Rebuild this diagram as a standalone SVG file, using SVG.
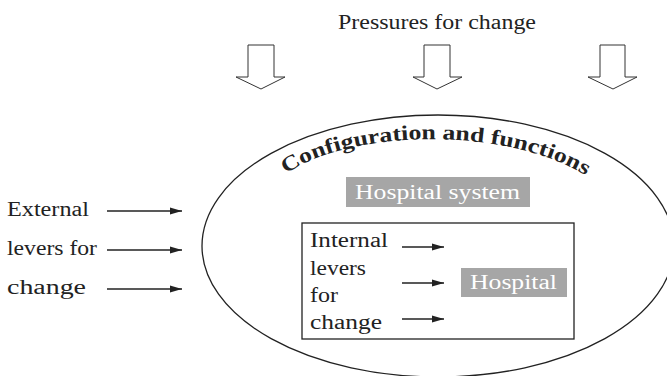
<svg xmlns="http://www.w3.org/2000/svg" width="667" height="376" viewBox="0 0 667 376">
<style>
text{font-family:"Liberation Serif","Times New Roman",serif;fill:#222;}
.lbl{font-size:20.5px;}
.wt{fill:#fff;font-size:20.5px;}
.box{fill:#a6a6a6;}
.ln{stroke:#222;stroke-width:1.3;fill:none;}
.blk{fill:#fff;stroke:#333;stroke-width:1;}
</style>
<defs>
<marker id="ah" markerUnits="userSpaceOnUse" markerWidth="12" markerHeight="8" refX="12" refY="4" orient="auto">
<path d="M0,0.5 L12,4 L0,7.5 Z" fill="#222"/>
</marker>
</defs>
<rect width="667" height="376" fill="#fff"/>
<g id="pressures">
<text x="338" y="29" font-size="20.5" textLength="198" lengthAdjust="spacingAndGlyphs">Pressures for change</text>
<polygon class="blk" points="248,45 274,45 274,77 285,77 261,89 236,77 248,77"/>
<polygon class="blk" points="424,45 450,45 450,77 462,77 437,89 413,77 424,77"/>
<polygon class="blk" points="600,45 625,45 625,77 637,77 613,89 588,77 600,77"/>
</g>
<g id="hospital-system">
<ellipse class="ln" cx="438" cy="246" rx="236" ry="131"/>
<path id="arcpath" d="M286,174 C350,128 520,124 598,184" fill="none"/>
<text font-size="21" font-weight="bold"><textPath href="#arcpath" textLength="312" lengthAdjust="spacingAndGlyphs">Configuration and functions</textPath></text>
<rect class="box" x="346" y="177" width="184" height="30"/>
<text class="wt" x="355" y="199" textLength="165" lengthAdjust="spacingAndGlyphs">Hospital system</text>
</g>
<g id="external">
<text class="lbl" x="7" y="216" textLength="82" lengthAdjust="spacingAndGlyphs">External</text>
<text class="lbl" x="7" y="255" textLength="90" lengthAdjust="spacingAndGlyphs">levers for</text>
<text class="lbl" x="7" y="294" textLength="79" lengthAdjust="spacingAndGlyphs">change</text>
</g>
<g id="hospital">
<rect class="ln" x="302" y="223" width="272" height="116"/>
<text class="lbl" x="310" y="247" textLength="78" lengthAdjust="spacingAndGlyphs">Internal</text>
<text class="lbl" x="310" y="275" textLength="56" lengthAdjust="spacingAndGlyphs">levers</text>
<text class="lbl" x="310" y="302" textLength="28" lengthAdjust="spacingAndGlyphs">for</text>
<text class="lbl" x="310" y="329" textLength="72" lengthAdjust="spacingAndGlyphs">change</text>
<rect class="box" x="461" y="268" width="106" height="29"/>
<text class="wt" x="470" y="289" textLength="87" lengthAdjust="spacingAndGlyphs">Hospital</text>
</g>
<g id="connectors" stroke="#222" stroke-width="1.3" marker-end="url(#ah)">
<line x1="107" y1="211" x2="182" y2="211"/>
<line x1="107" y1="250" x2="182" y2="250"/>
<line x1="107" y1="289" x2="182" y2="289"/>
<line x1="402" y1="247" x2="444" y2="247"/>
<line x1="402" y1="283" x2="444" y2="283"/>
<line x1="402" y1="319" x2="444" y2="319"/>
</g>
</svg>
